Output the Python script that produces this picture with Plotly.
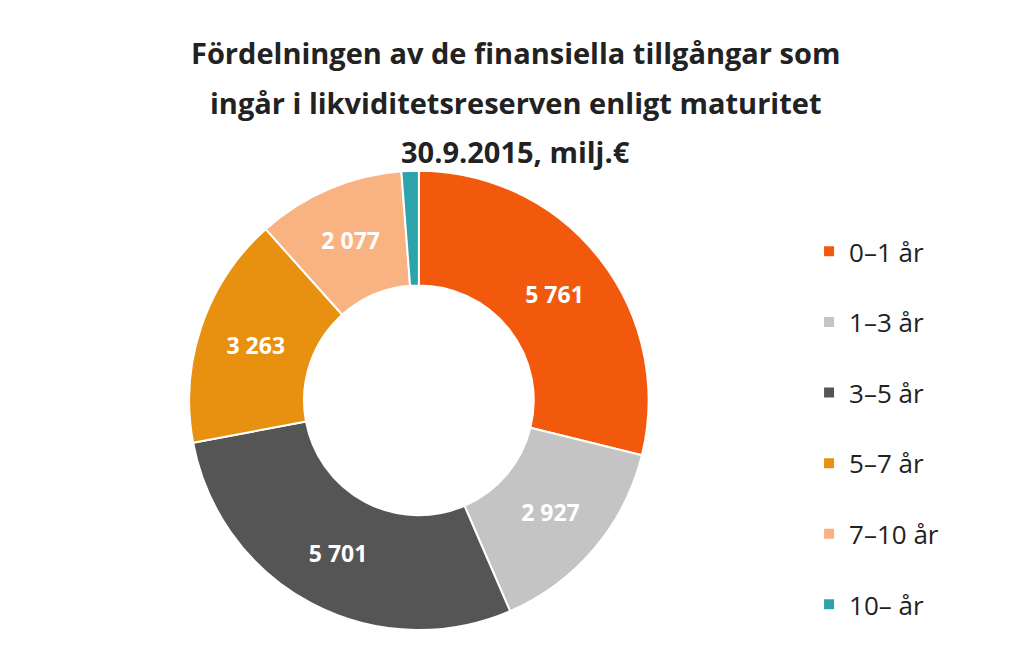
import plotly.graph_objects as go

labels = ["0–1 år", "1–3 år", "3–5 år", "5–7 år", "7–10 år", "10– år"]
values = [5761, 2927, 5701, 3263, 2077, 243]
text_labels = ["5 761", "2 927", "5 701", "3 263", "2 077", "243"]
colors = ["#F2590C", "#C4C4C4", "#555555", "#E8900F", "#F9B383", "#2FA3AC"]
title_lines = ["Fördelningen av de finansiella tillgångar som",
               "ingår i likviditetsreserven enligt maturitet",
               "30.9.2015, milj.€"]

fig = go.Figure(go.Pie(
    labels=[l + "<br> " for l in labels], values=values, text=text_labels,
    texttemplate="<b>%{text}</b>", textinfo="text",
    textposition=["inside"] * 5 + ["outside"],
    insidetextorientation="horizontal",
    textfont=dict(family="Open Sans", size=23, color="white"),
    outsidetextfont=dict(family="Open Sans", size=23, color="white"),
    hole=0.5, sort=False, direction="clockwise", rotation=0,
    marker=dict(colors=colors, line=dict(color="white", width=2)),
    domain=dict(x=[0.1764, 0.634], y=[0.04, 0.749]),
))
ann = []
for i, t in enumerate(title_lines):
    ann.append(dict(text="<b>" + t + "</b>", x=0.5, xref="paper", yref="paper",
                    y=1 - (45 + 50 * i) / 654, xanchor="center", yanchor="middle",
                    showarrow=False, font=dict(family="Open Sans", size=29, color="#222222")))
fig.update_layout(
    width=1014, height=654, paper_bgcolor="white",
    margin=dict(l=0, r=0, t=0, b=0), annotations=ann,
    legend=dict(x=0.79, y=1 - 222 / 654, yanchor="top", xanchor="left", valign="top",
                font=dict(family="Open Sans", size=26, color="#222222"),
                itemsizing="constant"),
)
fig.write_html("out.html")
